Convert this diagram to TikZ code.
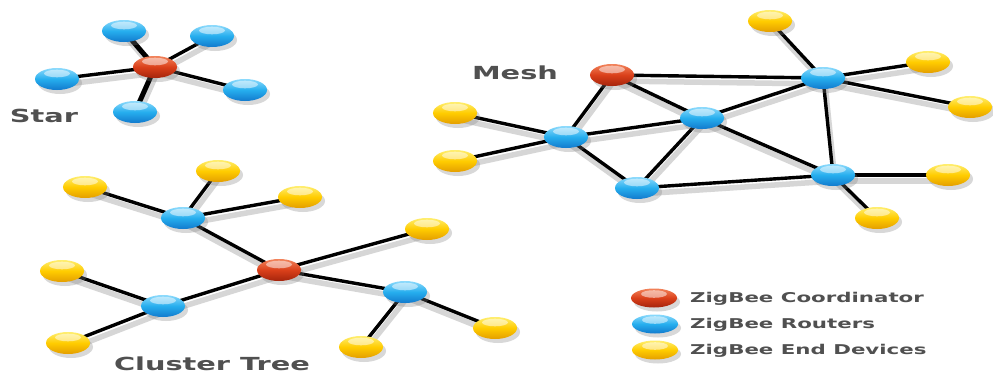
\documentclass[tikz,border=0pt]{standalone}
\usepackage{fontspec}
\setmainfont{DejaVu Sans}
\usepackage{graphicx}
\usetikzlibrary{shapes.geometric,shadows}
\pgfdeclarelayer{paper}
\pgfdeclarelayer{edgeshade}
\pgfdeclarelayer{edges}
\pgfsetlayers{paper,edgeshade,edges,main}
\definecolor{redTop}{RGB}{242,130,90}
\definecolor{redMid}{RGB}{218,64,26}
\definecolor{redBot}{RGB}{165,36,12}
\definecolor{bluTop}{RGB}{140,218,252}
\definecolor{bluMid}{RGB}{38,174,238}
\definecolor{bluBot}{RGB}{18,122,205}
\definecolor{yelTop}{RGB}{255,238,110}
\definecolor{yelMid}{RGB}{255,204,0}
\definecolor{yelBot}{RGB}{228,158,0}
\definecolor{txtgray}{RGB}{80,80,80}
\newcommand{\stretchit}[2][1.6]{\scalebox{#1}[1]{#2}}
\begin{document}
\begin{tikzpicture}[x=1pt,y=-1pt,
  devbase/.style={ellipse, minimum width=44pt, minimum height=22pt, inner sep=0pt,
    drop shadow={shadow xshift=3pt, shadow yshift=-4pt, opacity=0.3},
    path picture={\fill[white,opacity=0.5] ([yshift=-5.5pt]path picture bounding box.north) ellipse (13pt and 3.8pt);}},
  coordnode/.style={devbase, top color=redTop, bottom color=redBot, middle color=redMid},
  routnode/.style={devbase, top color=bluTop, bottom color=bluBot, middle color=bluMid},
  endnode/.style={devbase, top color=yelTop, bottom color=yelBot, middle color=yelMid},
  legnode/.style={minimum width=46pt, minimum height=19pt},
  link/.style={draw=black, line width=3.4pt},
  thicklink/.style={draw=black, line width=5pt},
  linkshade/.style={draw=black!16, line width=5.5pt, transform canvas={xshift=2pt,yshift=-6pt}},
  title/.style={font=\fontsize{18}{20}\selectfont\bfseries, text=txtgray, inner sep=0pt},
  legtext/.style={font=\fontsize{13.5}{15}\selectfont\bfseries, text=txtgray, inner sep=0pt, anchor=west}
]
\begin{pgfonlayer}{paper}
\fill[white] (0,0) rectangle (993,375);
\end{pgfonlayer}
\useasboundingbox (0,0) rectangle (993,375);

% ---------- Star ----------
\node[coordnode] (sc) at (155,67) {};
\node[routnode] (s1) at (124,31) {};
\node[routnode] (s2) at (212,36) {};
\node[routnode] (s3) at (57,79) {};
\node[routnode] (s4) at (245,90) {};
\node[routnode] (s5) at (135,112) {};
\node[title] (startxt) at (44,116) {\stretchit{Star}};

% ---------- Cluster Tree ----------
\node[coordnode] (tc) at (279,270) {};
\node[routnode] (tA) at (183,218) {};
\node[routnode] (tB) at (163,306) {};
\node[routnode] (tC) at (405,292) {};
\node[endnode] (ty1) at (85,187) {};
\node[endnode] (ty2) at (218,171) {};
\node[endnode] (ty3) at (300,197) {};
\node[endnode] (ty4) at (427,229) {};
\node[endnode] (ty5) at (62,271) {};
\node[endnode] (ty6) at (68,343) {};
\node[endnode] (ty7) at (361,347) {};
\node[endnode] (ty8) at (495,328) {};
\node[title] (treetxt) at (212,364) {\stretchit{Cluster Tree}};

% ---------- Mesh ----------
\node[coordnode] (mc) at (612,75) {};
\node[routnode] (m1) at (823,78) {};
\node[routnode] (m2) at (702,118) {};
\node[routnode] (m3) at (566,137) {};
\node[routnode] (m4) at (637,188) {};
\node[routnode] (m5) at (833,175) {};
\node[endnode] (my1) at (770,21) {};
\node[endnode] (my2) at (928,62) {};
\node[endnode] (my3) at (970,107) {};
\node[endnode] (my4) at (455,113) {};
\node[endnode] (my5) at (455,161) {};
\node[endnode] (my6) at (948,175) {};
\node[endnode] (my7) at (877,218) {};
\node[title] (meshtxt) at (515,73) {\stretchit{Mesh}};

% ---------- Legend ----------
\node[coordnode, legnode] (lc) at (654,298) {};
\node[routnode, legnode] (lr) at (655,324) {};
\node[endnode, legnode] (ly) at (655,350) {};
\node[legtext] (lct) at (690,299) {\stretchit[1.58]{ZigBee Coordinator}};
\node[legtext] (lrt) at (690,325) {\stretchit[1.58]{ZigBee Routers}};
\node[legtext] (lyt) at (690,351) {\stretchit[1.58]{ZigBee End Devices}};

% ---------- Connectors ----------
\begin{pgfonlayer}{edgeshade}
\foreach \a/\b in {sc/s1,sc/s2,sc/s3,sc/s4,sc/s5,
  tA/ty1,tA/ty2,tA/ty3,tA/tc,tc/ty4,tc/tB,tB/ty5,tB/ty6,tc/tC,tC/ty7,tC/ty8,
  mc/m1,mc/m2,mc/m3,m1/m2,m1/m5,m1/my1,m1/my2,m1/my3,m3/m2,m3/m4,m3/my4,m3/my5,
  m2/m4,m2/m5,m4/m5,m5/my6,m5/my7}
  {\draw[linkshade] (\a.center) -- (\b.center);}
\end{pgfonlayer}
\begin{pgfonlayer}{edges}
\foreach \a/\b in {sc/s1,sc/s5}
  {\draw[thicklink] (\a.center) -- (\b.center);}
\foreach \a/\b in {sc/s2,sc/s3,sc/s4,
  tA/ty1,tA/ty2,tA/ty3,tA/tc,tc/ty4,tc/tB,tB/ty5,tB/ty6,tc/tC,tC/ty7,tC/ty8,
  mc/m1,mc/m2,mc/m3,m1/m2,m1/m5,m1/my1,m1/my2,m1/my3,m3/m2,m3/m4,m3/my4,m3/my5,
  m2/m4,m2/m5,m4/m5,m5/my6,m5/my7}
  {\draw[link] (\a.center) -- (\b.center);}
\end{pgfonlayer}
\end{tikzpicture}
\end{document}
